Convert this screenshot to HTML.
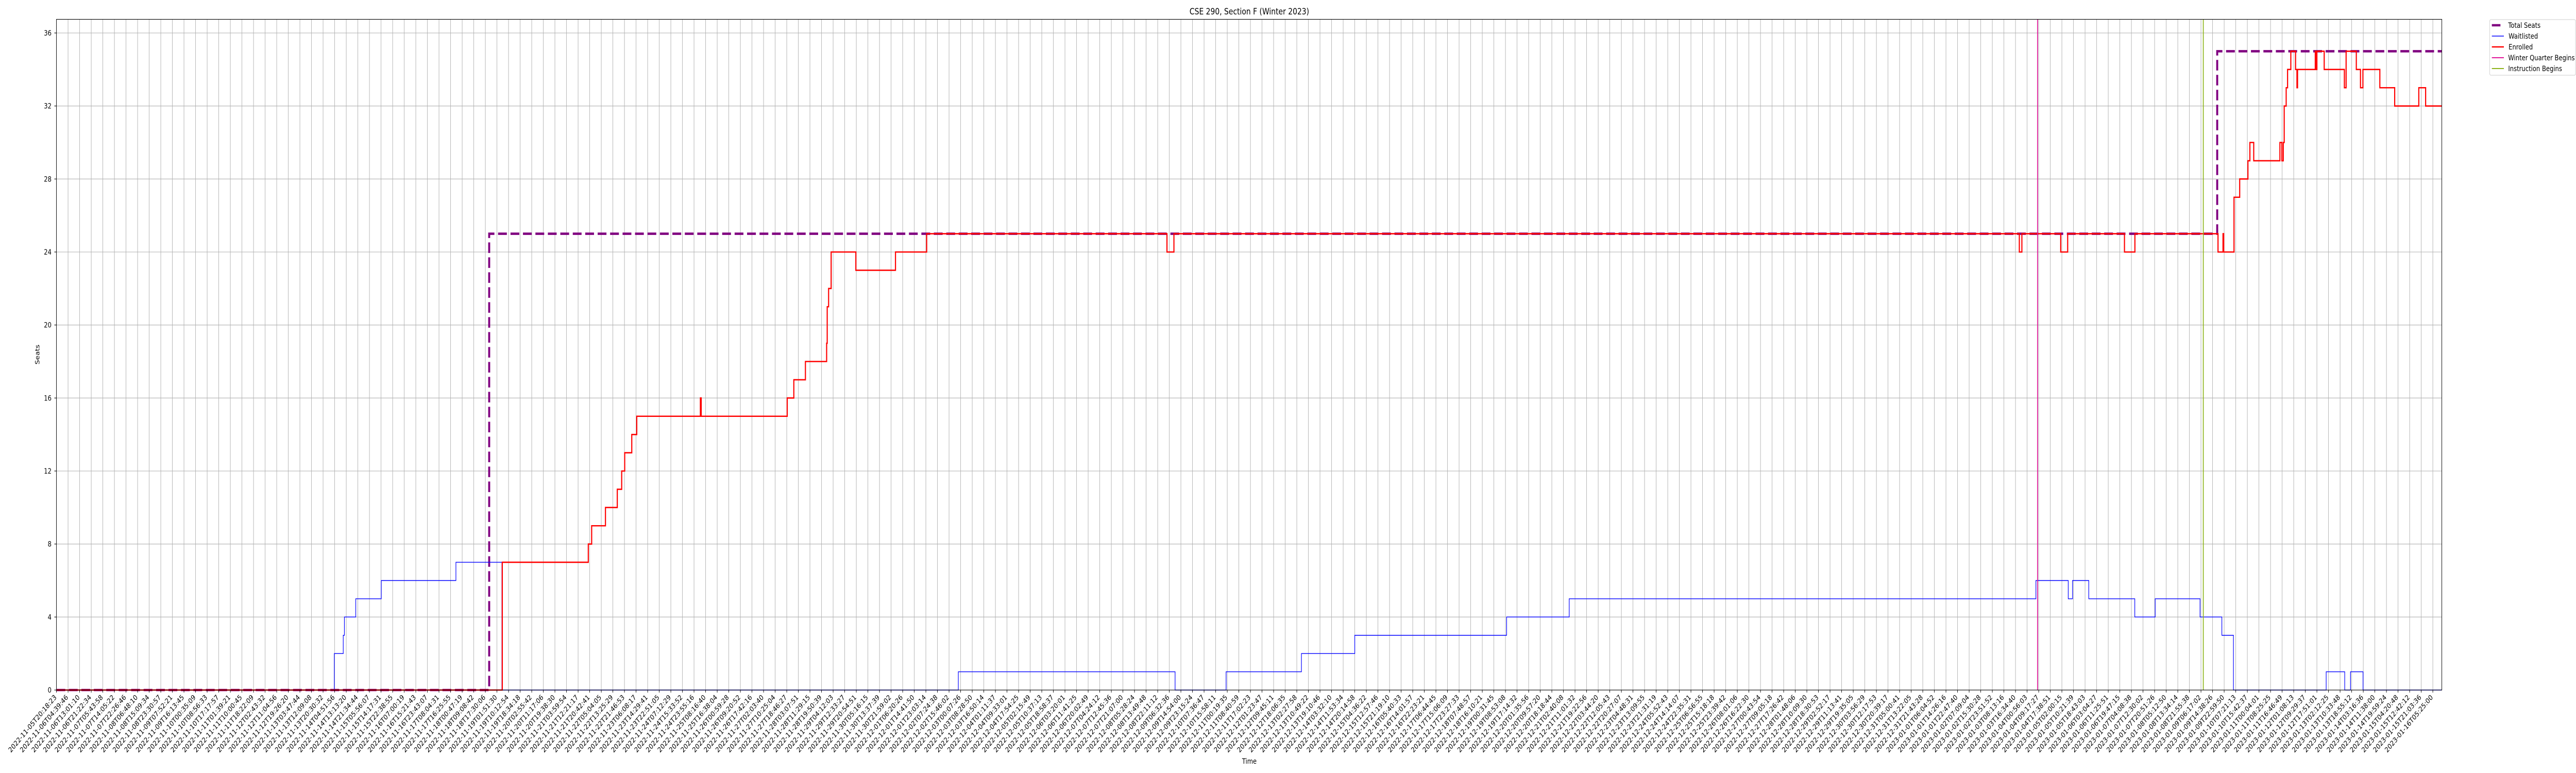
<!DOCTYPE html>
<html><head><meta charset="utf-8"><title>CSE 290, Section F (Winter 2023)</title>
<style>
html,body{margin:0;padding:0;background:#fff;width:100%;height:100%;overflow:hidden;}
svg{display:block;position:absolute;left:0;top:0;width:100vw;height:100vh;font-family:"DejaVu Sans","Liberation Sans",sans-serif;}
</style></head>
<body>
<svg id="chart" xmlns="http://www.w3.org/2000/svg" viewBox="0 0 6000 1500" preserveAspectRatio="none">
<rect x="0" y="0" width="6000" height="1500" fill="#fff"/>
<g id="grid"></g>
<g id="series"></g>
<rect x="131.5" y="37.5" width="5556" height="1301.5" fill="none" stroke="#000" stroke-width="1.1"/>
<g id="xticks"></g>
<g id="yticks"></g>
<text x="2910" y="28" font-size="16.7" text-anchor="middle">CSE 290, Section F (Winter 2023)</text>
<text x="2910" y="1482" font-size="13.9" text-anchor="middle">Time</text>
<text x="0" y="0" font-size="13.9" text-anchor="middle" transform="translate(92,688) rotate(-90)">Seats</text>
<g>
<rect x="5799" y="38" width="200" height="108" rx="3" fill="#fff" fill-opacity="0.8" stroke="#ccc" stroke-width="1"/>
<g><line x1="5804" y1="49" x2="5824" y2="49" stroke="#800080" stroke-width="4.5"/><text x="5842" y="54" font-size="13.9">Total Seats</text></g>
<g><line x1="5804" y1="70" x2="5832" y2="70" stroke="#0000ff" stroke-width="1.4"/><text x="5843" y="75" font-size="13.9">Waitlisted</text></g>
<g><line x1="5804" y1="91" x2="5832" y2="91" stroke="#ff0000" stroke-width="2.5"/><text x="5843" y="96" font-size="13.9">Enrolled</text></g>
<g><line x1="5804" y1="112" x2="5832" y2="112" stroke="#e0189a" stroke-width="2"/><text x="5842" y="117" font-size="13.9">Winter Quarter Begins</text></g>
<g><line x1="5804" y1="133" x2="5832" y2="133" stroke="#8db31a" stroke-width="2"/><text x="5842" y="138" font-size="13.9">Instruction Begins</text></g>
</g>
</svg>
<script>
// ---- data (x in sample/tick units, step-post) ----
const yTickValues = [0,4,8,12,16,20,24,28,32,36];
const totalSeatsX = [0, 37.33, 186.4];
const totalSeatsY = [0, 25, 35];
const waitlistX = [0,23.97,24.74,24.84,25.82,28.02,34.46,38.43,77.8,96.5,100.9,107.4,112.0,125.1,130.5,170.76,173.55,173.92,175.32,179.29,181.05,184.92,186.8,187.8,195.8,197.4,197.9,198.98];
const waitlistY = [0,2,3,4,5,6,7,0,1,0,1,2,3,4,5,6,5,6,5,4,5,4,3,0,1,0,1,0];
const enrolledX = [0,38.46,45.88,46.17,47.36,48.38,48.76,49.02,49.63,50.06,55.55,55.62,63.04,63.61,64.61,66.44,66.49,66.61,66.83,68.96,72.38,75.07,95.8,96.4,169.33,169.55,172.9,173.5,178.4,179.3,186.47,186.9,186.96,187.85,188.34,189.05,189.22,189.55,191.81,191.98,192.1,192.18,192.35,192.47,192.75,193.16,193.28,193.33,194.86,194.92,195.0,195.63,197.37,197.52,198.4,198.76,198.97,200.43,201.71,203.79,204.38];
const enrolledY = [0,7,8,9,10,11,12,13,14,15,16,15,16,17,18,19,21,22,24,23,24,25,24,25,24,25,24,25,24,25,24,25,24,27,28,29,30,29,30,29,30,32,33,34,35,34,33,34,35,34,35,34,33,35,34,33,34,33,32,33,32];
const quarterBeginsX = [170.9];
const instructionBeginsX = [185.2];
const xTickStart = "2022-11-05T20:18:23";
const xTickEnd = "2023-01-16T05:25:00";
const xTickCount = 206;

// ---- axes ----
const X0 = 131.5, PXU = 27.0, XMAX = 205.76;
const Y0 = 1339, PYU = 35.417;
function sx(u){ return X0 + u*PXU; }
function sy(v){ return Y0 - v*PYU; }
const NS = "http://www.w3.org/2000/svg";
function mk(tag, attrs, parent){ const e=document.createElementNS(NS,tag); for(const k in attrs) e.setAttribute(k,attrs[k]); parent.appendChild(e); return e; }

const t0 = Date.parse(xTickStart+"Z"), t1 = Date.parse(xTickEnd+"Z");
const xTickLabels = [];
for(let i=0;i<xTickCount;i++){
  const t = new Date(t0 + (t1-t0)*i/(xTickCount-1));
  xTickLabels.push(t.toISOString().slice(0,19));
}
xTickLabels[0]=xTickStart; xTickLabels[xTickCount-1]=xTickEnd;

const grid = document.getElementById('grid');
const xt = document.getElementById('xticks');
const yt = document.getElementById('yticks');
for(let i=0;i<xTickLabels.length;i++){
  const x = sx(i);
  const gl = mk('line',{x1:x,y1:37.5,x2:x,y2:Y0,stroke:'#b0b0b0','stroke-width':1.1},grid);
  
  
  const tk = mk('line',{x1:x,y1:Y0,x2:x,y2:Y0+4.9,stroke:'#000','stroke-width':1.1},xt);
  
  
  const tx = mk('text',{x:0,y:0,'font-size':13.9,'text-anchor':'end',transform:'translate('+(x+1)+',1354) rotate(-45)'},xt);
  tx.textContent = xTickLabels[i];
  
  
}
for(const v of yTickValues){
  const y = sy(v);
  const gl = mk('line',{x1:X0,y1:y,x2:5687.5,y2:y,stroke:'#b0b0b0','stroke-width':1.1},grid);
  
  
  const tk = mk('line',{x1:X0-4.9,y1:y,x2:X0,y2:y,stroke:'#000','stroke-width':1.1},yt);
  
  
  const tx = mk('text',{x:120,y:y+5,'font-size':13.9,'text-anchor':'end'},yt);
  tx.textContent = String(v);
  
  
}

function stepPath(xs, ys){
  let d = 'M'+sx(xs[0])+','+sy(ys[0]);
  for(let i=1;i<xs.length;i++){
    d += ' H'+sx(xs[i])+' V'+sy(ys[i]);
  }
  d += ' H'+sx(XMAX);
  return d;
}
const ser = document.getElementById('series');
const pTotal = mk('path',{d:stepPath(totalSeatsX,totalSeatsY),fill:'none',stroke:'#800080','stroke-width':4.6,'stroke-dasharray':'20.5,8.5'},ser);


const pWait = mk('path',{d:stepPath(waitlistX,waitlistY),fill:'none',stroke:'#0000ff','stroke-width':1.4},ser);


const pEnr = mk('path',{d:stepPath(enrolledX,enrolledY),fill:'none',stroke:'#ff0000','stroke-width':2.6},ser);


for(const q of quarterBeginsX){
  const l = mk('line',{x1:sx(q),y1:37.5,x2:sx(q),y2:Y0,stroke:'#e0189a','stroke-width':2},ser);
  
  
}
for(const q of instructionBeginsX){
  const l = mk('line',{x1:sx(q),y1:37.5,x2:sx(q),y2:Y0,stroke:'#8db31a','stroke-width':2},ser);
  
  
}
</script>
</body></html>
